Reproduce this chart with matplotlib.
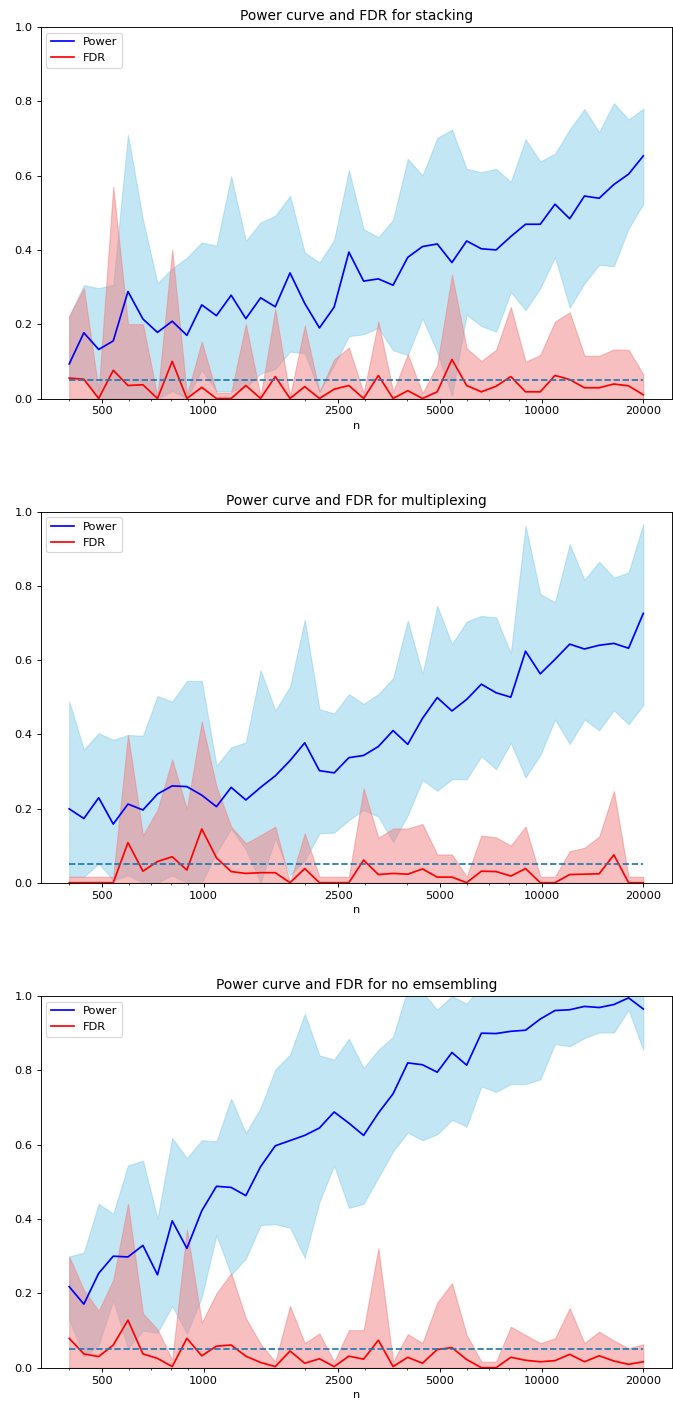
import matplotlib
matplotlib.use("Agg")
import matplotlib.pyplot as plt
from matplotlib.ticker import NullFormatter

n_values = [400, 442, 489, 540, 597, 661, 730, 807, 892, 987, 1091, 1206, 1333, 1474,
            1629, 1801, 1991, 2201, 2433, 2690, 2974, 3288, 3635, 4018, 4442, 4911,
            5429, 6002, 6635, 7335, 8109, 8965, 9911, 10957, 12113, 13391, 14804,
            16366, 18093, 20000]

tick_values = [500, 1000, 2500, 5000, 10000, 20000]
tick_labels = ["500", "1000", "2500", "5000", "10000", "20000"]
target_fdr = 0.05

# ---- stacking ----
stack_power = [0.093, 0.177, 0.132, 0.155, 0.288, 0.214, 0.178, 0.208, 0.170, 0.252,
               0.223, 0.278, 0.215, 0.271, 0.247, 0.338, 0.256, 0.190, 0.246, 0.394,
               0.316, 0.322, 0.305, 0.380, 0.409, 0.416, 0.366, 0.424, 0.403, 0.400,
               0.436, 0.469, 0.469, 0.523, 0.484, 0.545, 0.539, 0.576, 0.604, 0.653]
stack_power_hi = [0.222, 0.305, 0.297, 0.306, 0.710, 0.481, 0.310, 0.350, 0.379, 0.420,
                  0.411, 0.598, 0.424, 0.474, 0.492, 0.545, 0.393, 0.366, 0.427, 0.614,
                  0.456, 0.434, 0.481, 0.645, 0.600, 0.701, 0.724, 0.618, 0.609, 0.618,
                  0.583, 0.698, 0.638, 0.659, 0.724, 0.779, 0.717, 0.795, 0.751, 0.780]
stack_power_lo = [0.05, 0.05, 0.0, 0.0, 0.0, 0.0, 0.0, 0.02, 0.0, 0.077,
                  0.02, 0.02, 0.03, 0.067, 0.08, 0.126, 0.122, 0.018, 0.09, 0.168,
                  0.173, 0.19, 0.13, 0.117, 0.216, 0.125, 0.007, 0.226, 0.195, 0.180,
                  0.287, 0.238, 0.297, 0.381, 0.245, 0.310, 0.360, 0.356, 0.458, 0.524]
stack_fdr = [0.055, 0.052, 0.0, 0.076, 0.035, 0.037, 0.0, 0.100, 0.0, 0.030,
             0.0, 0.0, 0.035, 0.0, 0.059, 0.0, 0.032, 0.0, 0.025, 0.035,
             0.0, 0.062, 0.0, 0.021, 0.0, 0.018, 0.105, 0.035, 0.018, 0.033,
             0.059, 0.018, 0.018, 0.062, 0.051, 0.029, 0.029, 0.039, 0.034, 0.010]
stack_fdr_hi = [0.222, 0.297, 0.02, 0.570, 0.200, 0.200, 0.005, 0.400, 0.01, 0.153,
                0.016, 0.016, 0.200, 0.005, 0.240, 0.005, 0.196, 0.018, 0.105, 0.137,
                0.014, 0.207, 0.018, 0.119, 0.014, 0.090, 0.333, 0.135, 0.101, 0.131,
                0.246, 0.099, 0.117, 0.207, 0.232, 0.115, 0.115, 0.132, 0.131, 0.065]
stack_fdr_lo = [0.0] * 40

# ---- multiplexing ----
multi_power = [0.199, 0.173, 0.229, 0.158, 0.212, 0.196, 0.239, 0.261, 0.259, 0.236,
               0.205, 0.257, 0.223, 0.257, 0.288, 0.329, 0.377, 0.302, 0.296, 0.337,
               0.343, 0.367, 0.410, 0.373, 0.443, 0.499, 0.463, 0.494, 0.535, 0.512,
               0.500, 0.624, 0.563, 0.602, 0.643, 0.630, 0.640, 0.645, 0.632, 0.726]
multi_power_hi = [0.488, 0.359, 0.403, 0.385, 0.398, 0.396, 0.503, 0.488, 0.544, 0.544,
                  0.315, 0.365, 0.378, 0.573, 0.464, 0.528, 0.708, 0.468, 0.456, 0.508,
                  0.482, 0.508, 0.551, 0.706, 0.562, 0.746, 0.643, 0.704, 0.719, 0.715,
                  0.618, 0.962, 0.778, 0.756, 0.912, 0.816, 0.865, 0.822, 0.836, 0.967]
multi_power_lo = [0.016, 0.016, 0.052, 0.007, 0.02, 0.0, 0.0, 0.02, 0.0, 0.0,
                  0.08, 0.146, 0.09, 0.0, 0.12, 0.02, 0.06, 0.133, 0.135, 0.169,
                  0.196, 0.178, 0.110, 0.182, 0.277, 0.248, 0.279, 0.279, 0.341, 0.306,
                  0.377, 0.284, 0.344, 0.440, 0.374, 0.440, 0.411, 0.465, 0.427, 0.479]
multi_fdr = [0.0, 0.0, 0.0, 0.0, 0.108, 0.031, 0.057, 0.070, 0.034, 0.145,
             0.067, 0.030, 0.025, 0.027, 0.027, 0.0, 0.038, 0.0, 0.0, 0.0,
             0.061, 0.022, 0.025, 0.023, 0.037, 0.015, 0.015, 0.0, 0.031, 0.030,
             0.018, 0.038, 0.0, 0.0, 0.022, 0.023, 0.024, 0.075, 0.0, 0.0]
multi_fdr_hi = [0.016, 0.016, 0.016, 0.016, 0.398, 0.128, 0.196, 0.332, 0.198, 0.434,
                0.259, 0.151, 0.106, 0.128, 0.151, 0.0, 0.133, 0.016, 0.016, 0.016,
                0.254, 0.121, 0.146, 0.146, 0.158, 0.076, 0.076, 0.016, 0.127, 0.122,
                0.100, 0.151, 0.016, 0.016, 0.085, 0.094, 0.124, 0.247, 0.016, 0.016]
multi_fdr_lo = [0.0] * 40

# ---- no ensembling ----
none_power = [0.218, 0.171, 0.254, 0.300, 0.298, 0.329, 0.250, 0.395, 0.321, 0.422,
              0.488, 0.485, 0.463, 0.541, 0.597, 0.611, 0.625, 0.645, 0.688, 0.658,
              0.625, 0.685, 0.737, 0.820, 0.815, 0.795, 0.848, 0.814, 0.900, 0.899,
              0.905, 0.908, 0.938, 0.961, 0.963, 0.972, 0.969, 0.977, 0.995, 0.965]
none_power_hi = [0.299, 0.310, 0.441, 0.414, 0.544, 0.557, 0.401, 0.618, 0.564, 0.612,
                 0.609, 0.724, 0.631, 0.699, 0.802, 0.842, 0.952, 0.840, 0.829, 0.885,
                 0.806, 0.855, 0.890, 1.02, 1.01, 0.963, 1.0, 0.979, 1.03, 1.04,
                 1.05, 1.05, 1.06, 1.06, 1.07, 1.07, 1.07, 1.08, 1.08, 1.08]
none_power_lo = [0.13, 0.03, 0.061, 0.182, 0.052, 0.10, 0.094, 0.166, 0.092, 0.19,
                 0.357, 0.25, 0.294, 0.384, 0.386, 0.377, 0.296, 0.447, 0.544, 0.43,
                 0.441, 0.512, 0.582, 0.633, 0.612, 0.628, 0.667, 0.649, 0.757, 0.742,
                 0.763, 0.763, 0.776, 0.871, 0.865, 0.887, 0.902, 0.902, 0.963, 0.855]
none_fdr = [0.079, 0.037, 0.030, 0.061, 0.128, 0.037, 0.025, 0.003, 0.079, 0.032,
            0.058, 0.061, 0.031, 0.014, 0.003, 0.045, 0.012, 0.024, 0.003, 0.031,
            0.023, 0.074, 0.003, 0.028, 0.012, 0.049, 0.054, 0.022, 0.0, 0.0,
            0.028, 0.020, 0.016, 0.019, 0.036, 0.016, 0.032, 0.018, 0.009, 0.016]
none_fdr_hi = [0.299, 0.209, 0.153, 0.236, 0.441, 0.146, 0.103, 0.021, 0.372, 0.121,
               0.200, 0.254, 0.133, 0.064, 0.016, 0.166, 0.066, 0.092, 0.016, 0.101,
               0.101, 0.321, 0.016, 0.090, 0.066, 0.175, 0.227, 0.088, 0.016, 0.016,
               0.110, 0.088, 0.066, 0.079, 0.160, 0.066, 0.097, 0.073, 0.052, 0.063]
none_fdr_lo = [0.0] * 40

titles = ["Power curve and FDR for stacking",
          "Power curve and FDR for multiplexing",
          "Power curve and FDR for no emsembling"]

panels = [
    (stack_power, stack_power_lo, stack_power_hi, stack_fdr, stack_fdr_lo, stack_fdr_hi),
    (multi_power, multi_power_lo, multi_power_hi, multi_fdr, multi_fdr_lo, multi_fdr_hi),
    (none_power, none_power_lo, none_power_hi, none_fdr, none_fdr_lo, none_fdr_hi),
]

W, H = 673, 1406
DPI = 82.2
fig = plt.figure(figsize=(W / DPI, H / DPI), dpi=DPI)

left_px, right_px = 40.5, 672
tops_px = [27, 511.7, 996]
bottoms_px = [398.5, 882.7, 1367.7]

for k, (pw, pw_lo, pw_hi, fd, fd_lo, fd_hi) in enumerate(panels):
    ax = fig.add_axes([left_px / W, 1 - bottoms_px[k] / H,
                       (right_px - left_px) / W, (bottoms_px[k] - tops_px[k]) / H])
    ax.fill_between(n_values, pw_lo, pw_hi, color="skyblue", alpha=0.5)
    ax.fill_between(n_values, fd_lo, fd_hi, color="lightcoral", alpha=0.5)
    ax.plot(n_values, pw, color="b", label="Power")
    ax.plot(n_values, fd, color="r", label="FDR")
    ax.hlines(target_fdr, n_values[0], n_values[-1], colors="C0", linestyles="dashed")
    ax.set_xscale("log")
    ax.set_xticks(tick_values, tick_labels)
    ax.xaxis.set_minor_formatter(NullFormatter())
    ax.set_ylim(0, 1)
    ax.set_title(titles[k])
    ax.set_xlabel("n")
    ax.legend(loc="upper left")

fig.savefig("out.png", dpi=DPI)
